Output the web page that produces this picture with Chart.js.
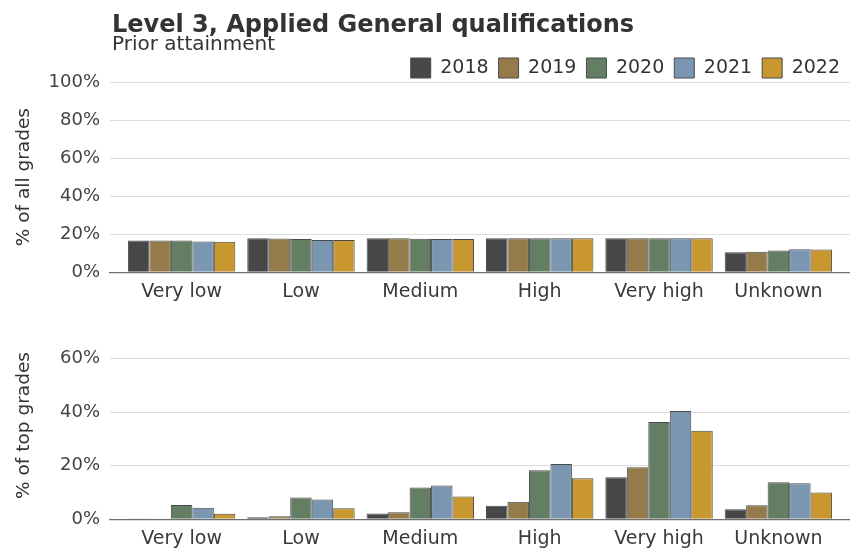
<!DOCTYPE html>
<html>
<head>
<meta charset="utf-8">
<script src="https://cdn.jsdelivr.net/npm/chart.js@4.4.0/dist/chart.umd.min.js"></script>
<style>
  html, body { margin: 0; padding: 0; background: #fff; overflow: hidden; }
  #top-wrap { position: relative; width: 850px; height: 311px; }
  #bottom-wrap { position: relative; width: 850px; height: 247px; }
</style>
</head>
<body>
<div id="top-wrap"><canvas id="allGrades"></canvas></div>
<div id="bottom-wrap"><canvas id="topGrades"></canvas></div>
<script>
  'use strict';

  // Chart data
  const categories = ['Very low', 'Low', 'Medium', 'High', 'Very high', 'Unknown'];
  const years = ['2018', '2019', '2020', '2021', '2022'];

  // % of all grades, per year, in category order
  const allGrades2018 = [16.7, 17.9, 17.9, 17.8, 17.8, 10.5];
  const allGrades2019 = [16.7, 17.7, 17.8, 17.8, 17.8, 10.7];
  const allGrades2020 = [16.7, 17.4, 17.6, 17.8, 17.8, 11.4];
  const allGrades2021 = [16.2, 16.9, 17.4, 17.8, 17.8, 12.1];
  const allGrades2022 = [16.0, 16.9, 17.4, 17.8, 17.8, 12.0];

  // % of top grades, per year, in category order
  const topGrades2018 = [0.3, 0.7, 2.1, 5.0, 15.7, 3.7];
  const topGrades2019 = [0.3, 1.1, 2.6, 6.5, 19.4, 5.2];
  const topGrades2020 = [5.3, 8.1, 11.8, 18.3, 36.3, 13.8];
  const topGrades2021 = [4.3, 7.4, 12.6, 20.6, 40.4, 13.4];
  const topGrades2022 = [2.0, 4.1, 8.5, 15.3, 33.0, 10.0];

  const allTicks = [0, 20, 40, 60, 80, 100];
  const topTicks = [0, 20, 40, 60];

  const TITLE = 'Level 3, Applied General qualifications';
  const SUBTITLE = 'Prior attainment';

  const yearColors = ['#474747', '#957b4a', '#637e63', '#7b96b1', '#c9972f'];
  const FONT = '"DejaVu Sans", sans-serif';

  Chart.defaults.font.family = FONT;
  Chart.defaults.color = '#3a3a3a';

  /**
   * Draws the title and subtitle above the first panel
   */
  const headerPlugin = {
    id: 'header',
    afterDraw(chart) {
      const ctx = chart.ctx;
      ctx.save();
      ctx.fillStyle = '#333333';
      ctx.textAlign = 'left';
      ctx.textBaseline = 'alphabetic';
      ctx.font = 'bold 24px ' + FONT;
      ctx.fillText(TITLE, 112, 32);
      ctx.font = '20px ' + FONT;
      ctx.fillText(SUBTITLE, 112, 50);
      ctx.restore();
    }
  };

  const buildDatasets = (seriesList) => seriesList.map((values, i) => ({
    label: years[i],
    data: values.map((v, idx) => ({ x: idx, y: v })),
    backgroundColor: yearColors[i],
    borderColor: '#4a4a4a',
    borderWidth: 1,
    categoryPercentage: 0.9,
    barPercentage: 1
  }));

  /**
   * Options shared by both panels
   */
  const getOptions = (axisTitle, yMax, yTicks, showLegend, padding) => ({
    responsive: true,
    maintainAspectRatio: false,
    animation: false,
    layout: { padding: padding },
    plugins: {
      legend: {
        display: showLegend,
        position: 'top',
        align: 'end',
        maxHeight: 34,
        labels: {
          boxWidth: 20,
          boxHeight: 20,
          padding: 10,
          color: '#333333',
          font: { size: 19 }
        }
      },
      tooltip: { enabled: false }
    },
    scales: {
      x: {
        type: 'linear',
        min: -0.6,
        max: 5.6,
        offset: false,
        afterBuildTicks: (axis) => {
          axis.ticks = categories.map((c, i) => ({ value: i }));
        },
        ticks: {
          callback: (value) => categories[value],
          padding: 8,
          color: '#3a3a3a',
          font: { size: 19 },
          maxRotation: 0,
          autoSkip: false
        },
        grid: { display: false, drawTicks: false },
        border: { display: true, color: '#6e6e6e', width: 1.3 }
      },
      y: {
        min: 0,
        max: yMax,
        afterFit: (axis) => { axis.width = 110; },
        afterBuildTicks: (axis) => {
          axis.ticks = yTicks.map((v) => ({ value: v }));
        },
        ticks: {
          callback: (value) => value + '%',
          padding: 10,
          color: '#444444',
          font: { size: 18 }
        },
        grid: { color: '#dedede', lineWidth: 1, drawTicks: false },
        border: { display: false },
        title: {
          display: true,
          text: axisTitle,
          color: '#333333',
          font: { size: 18.5 },
          padding: { top: 13, bottom: 0 }
        }
      }
    }
  });

  new Chart(document.getElementById('allGrades'), {
    type: 'bar',
    data: {
      datasets: buildDatasets([allGrades2018, allGrades2019, allGrades2020, allGrades2021, allGrades2022])
    },
    options: getOptions('% of all grades', 100, allTicks, true, { top: 48, right: 0, bottom: 0, left: 0 }),
    plugins: [headerPlugin]
  });

  new Chart(document.getElementById('topGrades'), {
    type: 'bar',
    data: {
      datasets: buildDatasets([topGrades2018, topGrades2019, topGrades2020, topGrades2021, topGrades2022])
    },
    options: getOptions('% of top grades', 70, topTicks, false, { top: 18, right: 0, bottom: 0, left: 0 })
  });
</script>
</body>
</html>
